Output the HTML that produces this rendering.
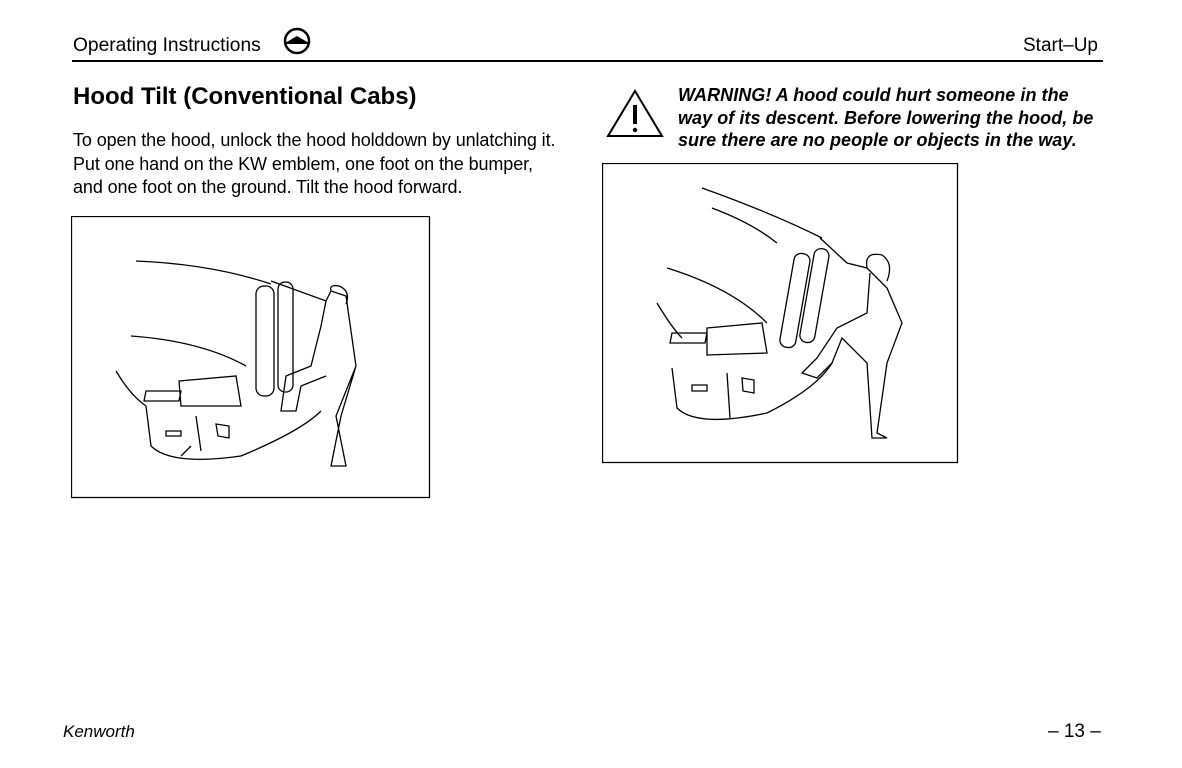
<!DOCTYPE html>
<html><head><style>
body{margin:0;width:1182px;height:768px;background:#fff;position:relative;font-family:"Liberation Sans",Arial,sans-serif;color:#000;overflow:hidden}
.a{position:absolute;white-space:nowrap}
</style></head><body>
<div class="a" style="left:73px;top:35px;font-size:19.2px">Operating Instructions</div>
<svg class="a" style="left:280px;top:27px" width="34" height="30"><circle cx="17" cy="14" r="12" fill="none" stroke="#000" stroke-width="2.5"/><path d="M5 16 L17 9 L29 16 Z" fill="#000"/><line x1="5" y1="16" x2="29" y2="16" stroke="#000" stroke-width="2"/></svg>
<div class="a" style="left:1023px;top:35px;font-size:19px">Start–Up</div>
<div class="a" style="left:72px;top:60px;width:1031px;height:2px;background:#000"></div>
<div class="a" style="left:73px;top:83px;font-size:24px;font-weight:bold">Hood Tilt (Conventional Cabs)</div>
<div class="a" style="left:73px;top:129px;font-size:18px;line-height:23.5px;letter-spacing:-0.1px">To open the hood, unlock the hood holddown by unlatching it.<br>Put one hand on the KW emblem, one foot on the bumper,<br>and one foot on the ground. Tilt the hood forward.</div>
<svg class="a" style="left:605px;top:88px" width="60" height="52"><path d="M30 3 L57 48 L3 48 Z" fill="none" stroke="#000" stroke-width="2"/><line x1="30" y1="17" x2="30" y2="36" stroke="#000" stroke-width="4"/><circle cx="30" cy="42" r="2.2"/></svg>
<div class="a" style="left:678px;top:84px;font-size:18px;line-height:22.5px;font-weight:bold;font-style:italic;letter-spacing:0.05px">WARNING! A hood could hurt someone in the<br>way of its descent. Before lowering the hood, be<br>sure there are no people or objects in the way.</div>
<svg class="a" style="left:71px;top:216px" width="360" height="283" fill="none" stroke="#000" stroke-width="1.3">
<rect x="0.5" y="0.5" width="358" height="281"/>
<path d="M65 45 Q140 48 200 68 M60 120 Q130 125 175 150 M45 155 Q60 180 75 190 M75 190 L80 230 Q100 250 170 240 Q230 215 250 195"/>
<path d="M75 175 L110 175 L108 185 L73 185 Z M108 165 L165 160 L170 190 L110 190 Z M95 215 L110 215 L110 220 L95 220 Z M145 208 L158 210 L158 222 L147 220 Z M125 200 L130 235 M120 230 L110 240"/>
<rect x="185" y="70" width="18" height="110" rx="8"/><rect x="207" y="66" width="15" height="110" rx="7"/>
<path d="M200 65 L255 85 L260 75 L275 80 L285 150 L270 200 L260 250 L275 250 L265 200 L285 150 M255 85 L250 110 L240 150 L215 160 L210 195 L225 195 L230 170 L255 160 M260 75 Q258 68 268 70 Q280 75 275 88"/>
</svg>
<svg class="a" style="left:602px;top:163px" width="357" height="301" fill="none" stroke="#000" stroke-width="1.3">
<rect x="0.5" y="0.5" width="355" height="299"/>
<path d="M100 25 Q170 50 220 75 M110 45 Q150 60 175 80 M65 105 Q130 125 165 160 M55 140 Q70 165 80 175 M70 205 L75 245 Q95 265 165 250 Q215 225 230 200"/>
<path d="M70 170 L105 170 L103 180 L68 180 Z M105 165 L160 160 L165 190 L105 192 Z M90 222 L105 222 L105 228 L90 228 Z M140 215 L152 217 L152 230 L141 228 Z M125 210 L128 255"/>
<rect x="185" y="90" width="16" height="95" rx="7" transform="rotate(10 193 137)"/><rect x="205" y="85" width="15" height="95" rx="7" transform="rotate(10 212 132)"/>
<path d="M218 75 L245 100 L265 105 L285 125 L300 160 L285 200 L275 270 L285 275 L270 275 L265 200 L240 175 L230 200 L215 215 L200 210 L215 195 L235 165 L265 150 L268 110 M265 105 Q262 88 280 92 Q292 100 285 118"/>
</svg>
<div class="a" style="left:63px;top:722px;font-size:17px;font-style:italic">Kenworth</div>
<div class="a" style="left:1048px;top:721px;font-size:19px">– 13 –</div>
</body></html>
